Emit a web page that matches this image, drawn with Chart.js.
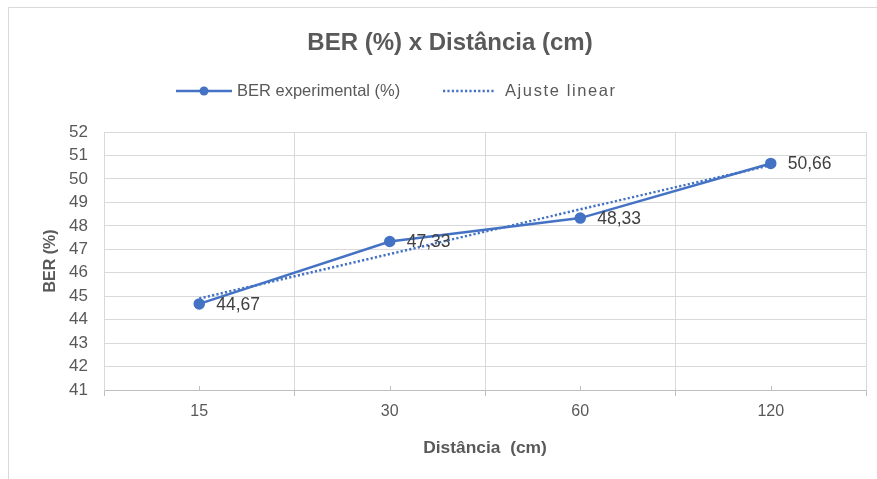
<!DOCTYPE html>
<html>
<head>
<meta charset="utf-8">
<script src="https://cdn.jsdelivr.net/npm/chart.js@4/dist/chart.umd.min.js"></script>
<style>
  html, body { margin: 0; padding: 0; background: #ffffff; }
  #wrap { width: 877px; height: 479px; position: relative; }
</style>
</head>
<body>
<div id="wrap"><canvas id="c" width="877" height="479"></canvas></div>
<script>
// Distância (cm) categories and measured BER values
const distancias = ['15', '30', '60', '120'];
const berExperimental = [44.67, 47.33, 48.33, 50.66];
// Linear fit line values at each category
const ajusteLinear = [44.90, 46.80, 48.70, 50.59];
// Y axis range
const yTicksMin = 41;
const yTicksMax = 52;

const FONT = '"Liberation Sans", Arial, sans-serif';
const TEXT_GREY = '#595959';
const BLUE = '#4472C4';
const GRID = '#d9d9d9';

// Chart frame (top and left edges of the chart border)
const framePlugin = {
  id: 'frame',
  beforeDraw(chart) {
    const ctx = chart.ctx;
    ctx.save();
    ctx.strokeStyle = GRID;
    ctx.lineWidth = 1;
    ctx.beginPath();
    ctx.moveTo(8.5, 479);
    ctx.lineTo(8.5, 7.5);
    ctx.lineTo(877, 7.5);
    ctx.stroke();
    ctx.restore();
  }
};

// Title and legend drawn above the plot area
const headerPlugin = {
  id: 'header',
  afterDraw(chart) {
    const ctx = chart.ctx;
    ctx.save();
    ctx.fillStyle = TEXT_GREY;
    ctx.font = 'bold 24px ' + FONT;
    ctx.textAlign = 'center';
    ctx.textBaseline = 'middle';
    ctx.fillText('BER (%) x Distância (cm)', 450, 43);

    const ly = 91;
    const ds = chart.data.datasets;
    // series 1: solid line with marker
    ctx.strokeStyle = ds[0].borderColor;
    ctx.lineWidth = ds[0].borderWidth;
    ctx.beginPath();
    ctx.moveTo(176, ly);
    ctx.lineTo(232, ly);
    ctx.stroke();
    ctx.fillStyle = ds[0].pointBackgroundColor;
    ctx.beginPath();
    ctx.arc(204, ly, ds[0].pointRadius, 0, Math.PI * 2);
    ctx.fill();
    // series 2: dotted line
    ctx.setLineDash(ds[1].borderDash);
    ctx.lineCap = ds[1].borderCapStyle;
    ctx.strokeStyle = ds[1].borderColor;
    ctx.lineWidth = ds[1].borderWidth;
    ctx.beginPath();
    ctx.moveTo(443, ly);
    ctx.lineTo(495, ly);
    ctx.stroke();
    ctx.setLineDash([]);

    ctx.fillStyle = TEXT_GREY;
    ctx.font = '16.5px ' + FONT;
    ctx.textAlign = 'left';
    ctx.fillText(ds[0].label, 237, ly);
    ctx.letterSpacing = '1.6px';
    ctx.fillText(ds[1].label, 505, ly);
    ctx.restore();
  }
};

// Value labels to the right of each measured point
const valueLabelPlugin = {
  id: 'valueLabels',
  afterDatasetsDraw(chart) {
    const ctx = chart.ctx;
    const meta = chart.getDatasetMeta(0);
    const values = chart.data.datasets[0].data;
    ctx.save();
    ctx.fillStyle = '#404040';
    ctx.font = '17.5px ' + FONT;
    ctx.textAlign = 'left';
    ctx.textBaseline = 'middle';
    meta.data.forEach((pt, i) => {
      const txt = values[i].toFixed(2).replace('.', ',');
      ctx.fillText(txt, pt.x + 17, pt.y + 1);
    });
    ctx.restore();
  }
};

// Small tick marks at each category centre on the x axis
const minorTickPlugin = {
  id: 'minorTicks',
  afterDraw(chart) {
    const x = chart.scales.x;
    const ctx = chart.ctx;
    ctx.save();
    ctx.strokeStyle = '#bfbfbf';
    ctx.lineWidth = 1;
    x.ticks.forEach((t, i) => {
      const px = Math.round(x.getPixelForTick(i)) + 0.5;
      ctx.beginPath();
      ctx.moveTo(px, x.top - 4);
      ctx.lineTo(px, x.top);
      ctx.stroke();
    });
    ctx.restore();
  }
};

new Chart(document.getElementById('c'), {
  type: 'line',
  data: {
    labels: distancias,
    datasets: [
      {
        label: 'BER experimental (%)',
        data: berExperimental,
        borderColor: BLUE,
        backgroundColor: BLUE,
        pointBackgroundColor: BLUE,
        pointBorderColor: BLUE,
        borderWidth: 2.5,
        pointRadius: 4.5,
        pointHoverRadius: 4.5,
        tension: 0,
        order: 1
      },
      {
        label: 'Ajuste linear',
        data: ajusteLinear,
        borderColor: BLUE,
        borderWidth: 2.5,
        borderDash: [2.2, 2.2],
        borderCapStyle: 'butt',
        pointRadius: 0,
        tension: 0,
        order: 2
      }
    ]
  },
  options: {
    responsive: false,
    animation: false,
    layout: { padding: { top: 132, left: 0, right: 11, bottom: 0 } },
    plugins: {
      legend: { display: false },
      title: { display: false },
      tooltip: { enabled: false }
    },
    scales: {
      x: {
        type: 'category',
        offset: true,
        afterFit(s) { s.height = 89; },
        grid: {
          offset: true,
          color: GRID,
          lineWidth: 1,
          drawTicks: true,
          tickLength: 6,
          tickColor: '#bfbfbf'
        },
        border: { color: '#bfbfbf', width: 1 },
        ticks: {
          color: TEXT_GREY,
          font: { family: FONT, size: 16 },
          padding: 6
        },
        title: {
          display: true,
          text: 'Distância  (cm)',
          color: TEXT_GREY,
          font: { family: FONT, size: 17.4, weight: 'bold' },
          padding: { top: 0, bottom: 20 }
        }
      },
      y: {
        min: yTicksMin,
        max: yTicksMax,
        afterFit(s) { s.width = 104; },
        grid: { color: GRID, lineWidth: 1, drawTicks: false },
        border: { display: true, color: GRID },
        ticks: {
          stepSize: 1,
          color: TEXT_GREY,
          font: { family: FONT, size: 17 },
          padding: 16
        },
        title: {
          display: true,
          text: 'BER (%)',
          color: TEXT_GREY,
          font: { family: FONT, size: 16, weight: 'bold' },
          padding: { top: 41, bottom: 0 }
        }
      }
    }
  },
  plugins: [framePlugin, headerPlugin, valueLabelPlugin, minorTickPlugin]
});
</script>
</body>
</html>
